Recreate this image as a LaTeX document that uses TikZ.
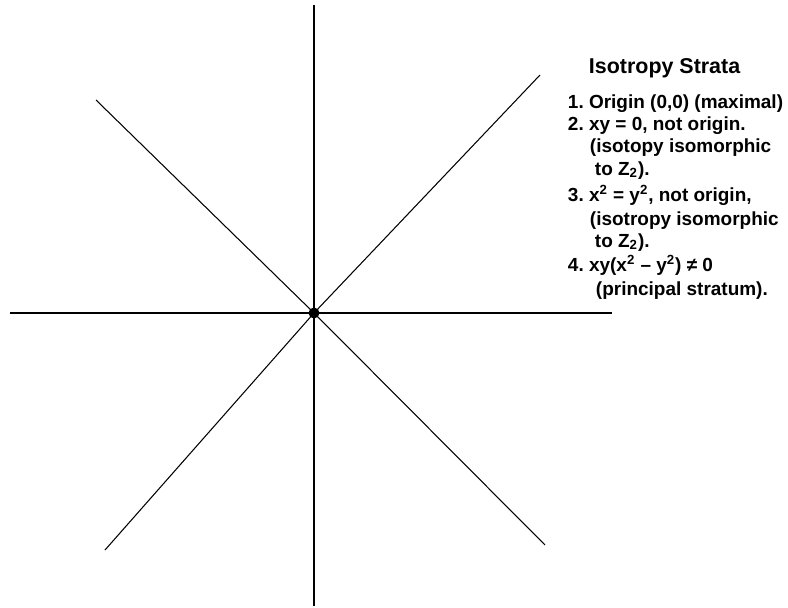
\documentclass[tikz,border=0pt]{standalone}
\usepackage{fontspec}
\setmainfont{Liberation Sans}
\frenchspacing
\begin{document}
\begin{tikzpicture}[x=0.02cm,y=-0.02cm,line width=1.1pt,
  strata/.style={anchor=base west,inner sep=0pt,font=\bfseries\fontsize{10.8}{13}\selectfont},
  diag/.style={line width=0.6pt}]
  \useasboundingbox (0,0) rectangle (788,608);

  % axes
  \coordinate (O) at (314,313);
  \coordinate (W) at (10,313);
  \coordinate (E) at (612,313);
  \coordinate (N) at (314,5);
  \coordinate (S) at (314,606);
  \draw (W) -- (E);
  \draw (N) -- (S);

  % lines x^2 = y^2
  \coordinate (NW) at (96,100);
  \coordinate (NE) at (540,75);
  \coordinate (SW) at (105,550);
  \coordinate (SE) at (545,545);
  \draw[diag] (NW) -- (O) -- (SE);
  \draw[diag] (NE) -- (O) -- (SW);
  \fill (O) circle (5.5);

  % legend
  \node[anchor=base west,inner sep=0pt,font=\bfseries\fontsize{12.2}{14}\selectfont] (title) at (588,74) {Isotropy Strata};
  \node[strata] (s1)  at (567,109) {1. Origin (0,0) (maximal)};
  \node[strata] (s2)  at (567,131) {2. xy = 0, not origin.};
  \node[strata] (s2a) at (589,153) {(isotopy isomorphic};
  \node[strata] (s2b) at (594,175) {to Z\textsubscript{2}).};
  \node[strata] (s3)  at (567,201) {3. x\textsuperscript{2} = y\textsuperscript{2}, not origin,};
  \node[strata] (s3a) at (589,225) {(isotropy isomorphic};
  \node[strata] (s3b) at (594,247) {to Z\textsubscript{2}).};
  \node[strata] (s4)  at (567,271) {4. xy(x\textsuperscript{2} -- y\textsuperscript{2}) ≠ 0};
  \node[strata] (s4a) at (595,295) {(principal stratum).};
\end{tikzpicture}
\end{document}
